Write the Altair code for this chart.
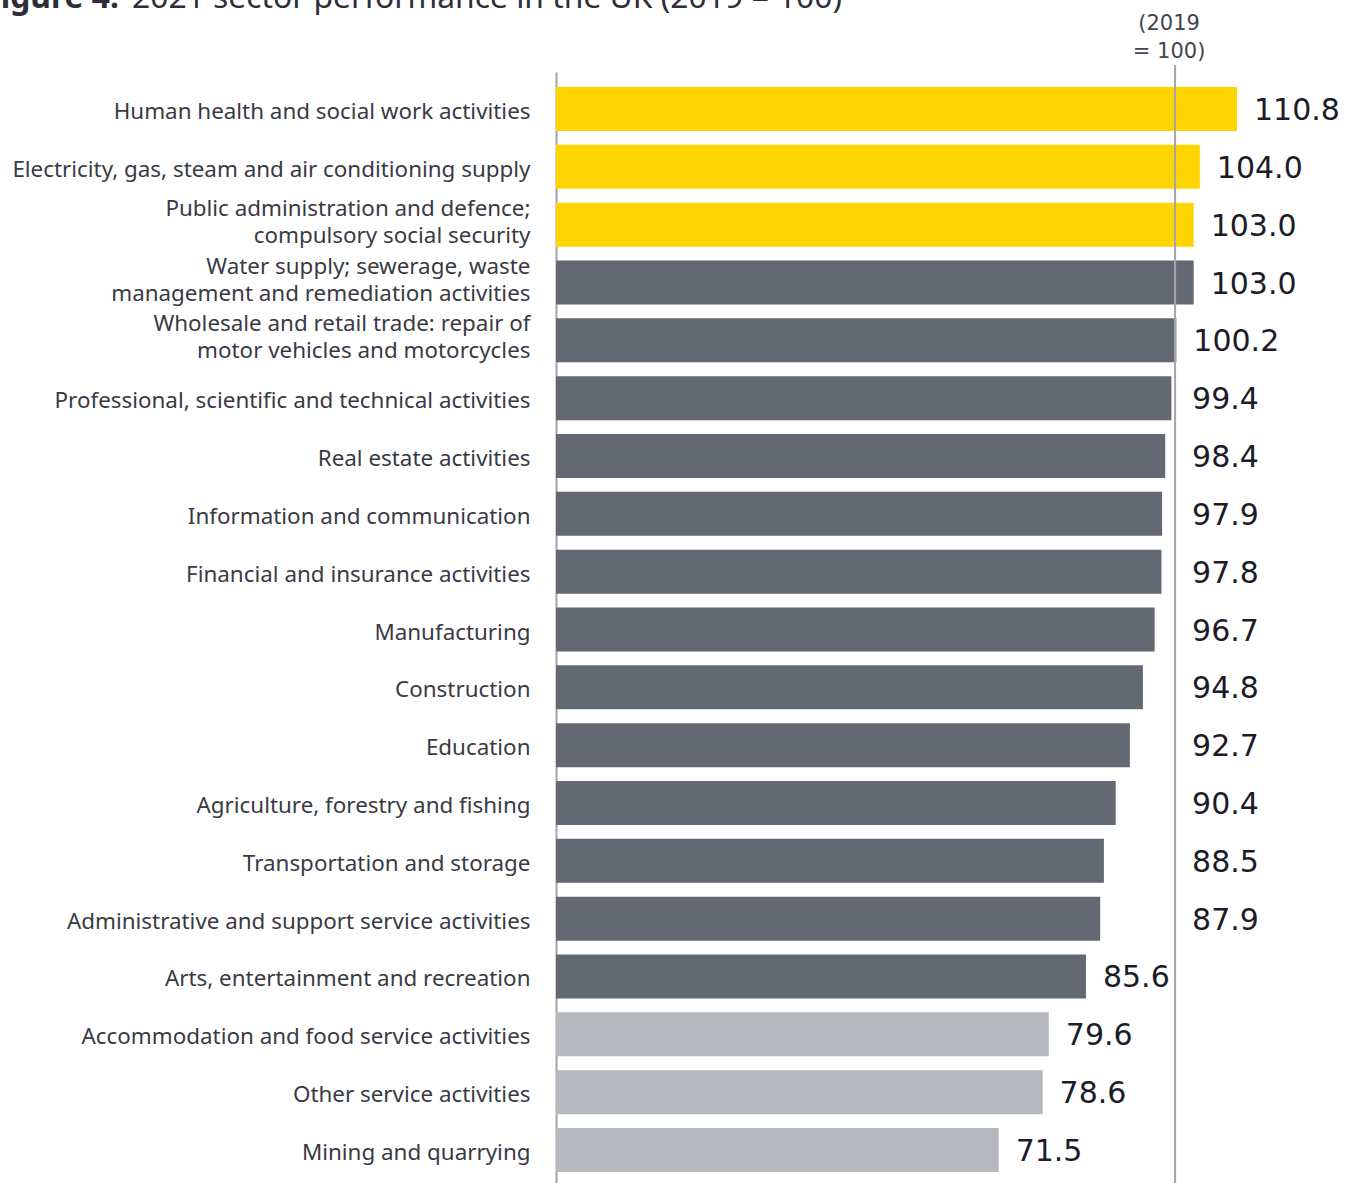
import altair as alt
import pandas as pd

sectors = [
    "Human health and social work activities",
    "Electricity, gas, steam and air conditioning supply",
    "Public administration and defence;\ncompulsory social security",
    "Water supply; sewerage, waste\nmanagement and remediation activities",
    "Wholesale and retail trade: repair of\nmotor vehicles and motorcycles",
    "Professional, scientific and technical activities",
    "Real estate activities",
    "Information and communication",
    "Financial and insurance activities",
    "Manufacturing",
    "Construction",
    "Education",
    "Agriculture, forestry and fishing",
    "Transportation and storage",
    "Administrative and support service activities",
    "Arts, entertainment and recreation",
    "Accommodation and food service activities",
    "Other service activities",
    "Mining and quarrying",
]
values = [110.8, 104.0, 103.0, 103.0, 100.2, 99.4, 98.4, 97.9, 97.8, 96.7,
          94.8, 92.7, 90.4, 88.5, 87.9, 85.6, 79.6, 78.6, 71.5]
groups = ["high"] * 3 + ["mid"] * 13 + ["low"] * 3
group_names = ["high", "mid", "low"]
group_colors = ["#FFD500", "#636873", "#B5B8BC"]

title_bold = "Figure 4:"
title_rest = "2021 sector performance in the UK (2019 = 100)"
ref_value = 100
ref_note = "(2019\n= 100)"

FONT = "Noto Sans"
NUMFONT = "DejaVu Sans"
W, H = 681, 1111

df = pd.DataFrame({"sector": sectors, "value": values, "group": groups})

y_enc = alt.Y(
    "sector:N",
    sort=None,
    scale=alt.Scale(paddingInner=0.239, paddingOuter=0.225, align=0.577),
    axis=alt.Axis(
        title=None,
        labelExpr="split(datum.label, '\\n')",
        labelFont=FONT,
        labelFontSize=22.4,
        labelColor="#3a3a44",
        labelPadding=26,
        labelLimit=700,
        labelLineHeight=27,
        labelOffset={"condition": {"test": "indexof(datum.label, '\\n') >= 0", "value": -16}, "value": 3},
        ticks=False,
        grid=False,
        domainColor="#a3a3ab",
        domainWidth=2,
    ),
)
x_scale = alt.Scale(domain=[0, 110], nice=False, zero=True)

base = alt.Chart(df)

bars = base.mark_bar(clip=True).encode(
    x=alt.X("value:Q", scale=x_scale, axis=None),
    y=y_enc,
    color=alt.Color("group:N", scale=alt.Scale(domain=group_names, range=group_colors), legend=None),
)

labels = base.transform_calculate(
    lab_x="datum.value >= 100 ? min(datum.value, 110) : (datum.value > 86 ? 100 : datum.value)"
).mark_text(align="left", baseline="middle", dx=17, dy=2, font=NUMFONT, fontSize=30, color="#1c1c28").encode(
    x=alt.X("lab_x:Q", scale=x_scale, axis=None),
    y=y_enc,
    text=alt.Text("value:Q", format=".1f"),
)

ref_df = pd.DataFrame({"ref": [ref_value], "note": [ref_note]})
ref_rule = alt.Chart(ref_df).mark_rule(color="#a3a3ab", strokeWidth=2).encode(
    x=alt.X("ref:Q", scale=x_scale, axis=None),
    y=alt.value(-7),
    y2=alt.value(H),
)
ref_text = alt.Chart(ref_df).mark_text(
    align="center", baseline="alphabetic", lineBreak="\n", lineHeight=28,
    font=NUMFONT, fontSize=21, color="#444450", dx=-6,
).encode(
    x=alt.X("ref:Q", scale=x_scale, axis=None),
    y=alt.value(-42),
    text="note:N",
)

title_df = pd.DataFrame({"bold": [title_bold], "rest": [title_rest]})
t_bold = alt.Chart(title_df).mark_text(
    align="right", baseline="alphabetic", font=FONT, fontSize=31.8, fontWeight="bold", color="#2e2e38"
).encode(x=alt.value(119 - 556), y=alt.value(8 - 72), text="bold:N")
t_rest = alt.Chart(title_df).mark_text(
    align="left", baseline="alphabetic", font=FONT, fontSize=31.8, color="#2e2e38"
).encode(x=alt.value(132 - 556), y=alt.value(8 - 72), text="rest:N")

chart = alt.layer(bars, labels, ref_rule, ref_text, t_bold, t_rest).properties(
    width=W,
    height=H,
    padding={"left": 556, "top": 72, "right": 118, "bottom": 0},
    autosize=alt.AutoSizeParams(type="none"),
).configure_view(stroke=None)

chart.save("out.html", embed_options={"renderer": "svg", "actions": False})
